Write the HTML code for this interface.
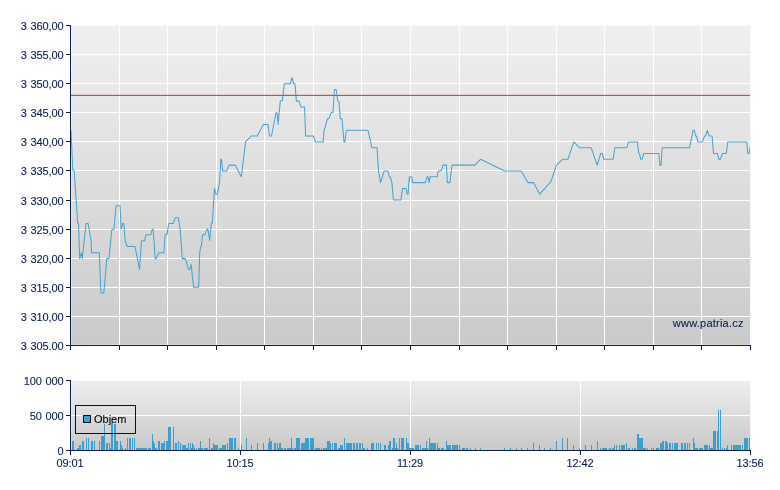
<!DOCTYPE html>
<html lang="cs"><head><meta charset="utf-8"><title>Graf</title>
<style>
html,body{margin:0;padding:0;background:#fff;}
body{width:780px;height:490px;overflow:hidden;}
svg{display:block;will-change:transform;}
.t{font-family:"Liberation Sans",sans-serif;font-size:11px;fill:#0B1F4E;stroke:#0B1F4E;stroke-width:0.1px;letter-spacing:-0.117px;word-spacing:0.82px;}
.k{font-family:"Liberation Sans",sans-serif;font-size:11px;fill:#000;stroke:#000;stroke-width:0.1px;}
</style></head><body>
<svg width="780" height="490" viewBox="0 0 780 490">
<defs>
<linearGradient id="g1" x1="0" y1="0" x2="0" y2="1"><stop offset="0" stop-color="#F0F0F0"/><stop offset="1" stop-color="#CACACA"/></linearGradient>
<linearGradient id="g2" x1="0" y1="0" x2="0" y2="1"><stop offset="0" stop-color="#EEEEEE"/><stop offset="1" stop-color="#C9C9C9"/></linearGradient>
<clipPath id="c2"><rect x="0" y="335" width="70" height="15.2"/></clipPath>
<clipPath id="c1"><rect x="71" y="25" width="679" height="320"/></clipPath>
</defs>
<rect width="780" height="490" fill="#fff"/>
<g shape-rendering="crispEdges">
<rect x="71" y="25" width="679" height="320" fill="url(#g1)"/>
<rect x="71" y="25" width="679" height="1" fill="#fff"/>
<rect x="71" y="54" width="679" height="1" fill="#fff"/>
<rect x="71" y="83" width="679" height="1" fill="#fff"/>
<rect x="71" y="112" width="679" height="1" fill="#fff"/>
<rect x="71" y="141" width="679" height="1" fill="#fff"/>
<rect x="71" y="170" width="679" height="1" fill="#fff"/>
<rect x="71" y="200" width="679" height="1" fill="#fff"/>
<rect x="71" y="229" width="679" height="1" fill="#fff"/>
<rect x="71" y="258" width="679" height="1" fill="#fff"/>
<rect x="71" y="287" width="679" height="1" fill="#fff"/>
<rect x="71" y="316" width="679" height="1" fill="#fff"/>
<rect x="71" y="345" width="679" height="1" fill="#fff"/>
<rect x="119" y="25" width="1" height="320" fill="#fff"/>
<rect x="167" y="25" width="1" height="320" fill="#fff"/>
<rect x="216" y="25" width="1" height="320" fill="#fff"/>
<rect x="264" y="25" width="1" height="320" fill="#fff"/>
<rect x="313" y="25" width="1" height="320" fill="#fff"/>
<rect x="361" y="25" width="1" height="320" fill="#fff"/>
<rect x="410" y="25" width="1" height="320" fill="#fff"/>
<rect x="459" y="25" width="1" height="320" fill="#fff"/>
<rect x="507" y="25" width="1" height="320" fill="#fff"/>
<rect x="556" y="25" width="1" height="320" fill="#fff"/>
<rect x="604" y="25" width="1" height="320" fill="#fff"/>
<rect x="653" y="25" width="1" height="320" fill="#fff"/>
<rect x="701" y="25" width="1" height="320" fill="#fff"/>
<rect x="750" y="25" width="1" height="320" fill="#fff"/>
<rect x="71" y="26" width="1" height="319" fill="#fff" opacity="0.28"/>
<rect x="71" y="25" width="680" height="1" fill="#F6F9FC"/>
<rect x="750" y="25" width="1" height="320" fill="#F6F9FC"/>
<rect x="71" y="344" width="679" height="1" fill="#fff" opacity="0.28"/>
</g>
<polyline clip-path="url(#c1)" points="71.0,130.2 72.8,170.0 74.2,171.2 77.7,223.0 78.5,223.5 79.7,258.6 81.3,252.7 82.3,258.6 86.0,223.5 88.1,223.5 91.1,240.8 91.5,252.7 99.3,252.7 100.9,292.9 103.8,292.9 106.8,258.6 108.9,258.6 111.9,229.2 114.0,229.2 116.0,205.7 120.1,205.7 121.1,229.2 122.8,223.5 123.8,223.5 125.2,240.8 127.2,246.5 135.0,246.5 137.4,258.6 139.5,269.4 141.5,240.8 144.6,240.8 146.0,234.7 150.7,234.7 152.3,229.2 153.2,229.2 155.2,258.6 156.2,258.6 158.9,252.7 164.0,252.7 165.0,234.7 167.0,234.7 168.7,223.5 173.2,223.5 175.2,217.8 178.3,217.8 180.3,230.6 182.3,258.6 185.4,258.6 188.5,269.4 189.9,269.4 191.1,264.3 193.6,287.3 198.7,287.3 199.7,252.7 200.7,246.5 201.3,246.5 202.6,234.7 204.8,234.7 207.2,228.9 207.8,228.9 209.7,240.5 211.3,223.3 212.3,223.3 214.4,188.4 216.0,194.2 217.4,194.2 219.5,182.6 220.9,159.3 221.5,159.3 222.6,171.0 226.6,171.0 229.1,165.1 235.2,165.1 241.3,176.8 245.6,141.9 251.1,136.0 257.2,136.0 263.4,124.4 267.9,124.4 269.5,136.0 271.5,136.0 276.0,112.8 277.0,112.8 278.1,124.4 280.3,101.1 282.3,100.6 284.4,83.7 290.5,83.7 291.7,77.9 292.3,77.9 293.4,83.7 295.0,83.7 296.4,101.1 299.1,101.1 301.1,107.0 304.6,107.0 305.6,136.0 313.4,136.0 315.4,141.9 323.2,141.9 324.0,131.0 327.5,118.6 329.1,118.6 331.0,112.8 333.0,112.2 334.4,89.5 336.2,89.5 337.7,100.8 338.9,101.4 340.3,118.6 341.9,118.6 344.0,141.9 344.8,141.9 346.4,130.2 366.8,130.2 368.3,131.2 371.9,147.7 377.0,147.7 378.5,171.0 380.5,182.6 384.2,171.0 387.9,171.0 389.3,176.8 390.3,177.0 391.9,182.6 393.4,200.0 400.9,200.0 402.6,188.4 406.0,188.4 407.2,194.2 408.1,194.2 409.3,176.8 411.7,176.8 412.8,182.6 425.4,182.6 427.0,176.8 428.0,176.8 429.1,182.6 430.1,176.8 437.2,176.8 438.3,171.0 441.3,170.6 443.0,165.1 446.4,165.1 447.4,182.6 449.9,182.6 451.9,165.1 474.8,165.1 480.5,159.3 504.6,171.0 521.3,171.0 527.9,182.6 533.6,182.6 539.7,194.2 550.9,181.6 556.4,165.1 562.6,159.3 567.9,159.3 573.8,141.9 579.5,147.7 591.1,147.7 597.2,165.1 600.7,153.5 602.3,153.5 603.8,159.3 613.2,159.3 614.8,147.7 626.8,147.7 628.5,141.9 637.4,141.9 638.7,153.5 639.5,153.5 640.7,159.3 642.1,159.3 643.6,153.5 658.9,153.5 659.9,165.1 661.1,165.1 662.1,147.7 689.6,147.7 693.1,130.2 694.3,130.2 695.6,136.0 696.5,136.0 698.0,141.9 702.4,141.9 704.5,136.0 705.7,135.7 707.3,130.5 709.0,135.8 712.1,136.0 713.5,153.5 717.4,153.5 718.8,159.3 720.4,159.3 722.5,153.5 726.3,153.5 727.8,141.9 746.8,141.9 747.8,153.5 749.2,153.5 750.0,147.7" fill="none" stroke="#4BA4CF" stroke-width="1.05" stroke-linejoin="round"/>
<g shape-rendering="crispEdges"><rect x="71" y="94" width="679" height="1" fill="#D24B4B" opacity="0.18"/><rect x="71" y="95" width="679" height="1" fill="#D24B4B"/></g>
<g shape-rendering="crispEdges" fill="#0B1F4E">
<rect x="70" y="25" width="1" height="325"/>
<rect x="66" y="345" width="685" height="1"/>
<rect x="66" y="25" width="4" height="1"/>
<rect x="66" y="54" width="4" height="1"/>
<rect x="66" y="83" width="4" height="1"/>
<rect x="66" y="112" width="4" height="1"/>
<rect x="66" y="141" width="4" height="1"/>
<rect x="66" y="170" width="4" height="1"/>
<rect x="66" y="200" width="4" height="1"/>
<rect x="66" y="229" width="4" height="1"/>
<rect x="66" y="258" width="4" height="1"/>
<rect x="66" y="287" width="4" height="1"/>
<rect x="66" y="316" width="4" height="1"/>
<rect x="66" y="345" width="4" height="1"/>
<rect x="119" y="345" width="1" height="5"/>
<rect x="167" y="345" width="1" height="5"/>
<rect x="216" y="345" width="1" height="5"/>
<rect x="264" y="345" width="1" height="5"/>
<rect x="313" y="345" width="1" height="5"/>
<rect x="361" y="345" width="1" height="5"/>
<rect x="410" y="345" width="1" height="5"/>
<rect x="459" y="345" width="1" height="5"/>
<rect x="507" y="345" width="1" height="5"/>
<rect x="556" y="345" width="1" height="5"/>
<rect x="604" y="345" width="1" height="5"/>
<rect x="653" y="345" width="1" height="5"/>
<rect x="701" y="345" width="1" height="5"/>
<rect x="750" y="345" width="1" height="5"/>
</g>
<text class="t" x="63.4" y="30" text-anchor="end">3 360,00</text>
<text class="t" x="63.4" y="59" text-anchor="end">3 355,00</text>
<text class="t" x="63.4" y="88" text-anchor="end">3 350,00</text>
<text class="t" x="63.4" y="117" text-anchor="end">3 345,00</text>
<text class="t" x="63.4" y="146" text-anchor="end">3 340,00</text>
<text class="t" x="63.4" y="175" text-anchor="end">3 335,00</text>
<text class="t" x="63.4" y="205" text-anchor="end">3 330,00</text>
<text class="t" x="63.4" y="234" text-anchor="end">3 325,00</text>
<text class="t" x="63.4" y="263" text-anchor="end">3 320,00</text>
<text class="t" x="63.4" y="292" text-anchor="end">3 315,00</text>
<text class="t" x="63.4" y="321" text-anchor="end">3 310,00</text>
<text class="t" x="63.4" y="350" text-anchor="end" clip-path="url(#c2)">3 305,00</text>
<text class="t" x="672.8" y="327" textLength="70.6" lengthAdjust="spacing">www.patria.cz</text>
<g shape-rendering="crispEdges">
<rect x="71" y="380" width="679" height="70" fill="url(#g2)"/>
<rect x="71" y="380" width="679" height="1" fill="#fff"/>
<rect x="71" y="415" width="679" height="1" fill="#fff"/>
<rect x="240" y="380" width="1" height="70" fill="#fff"/>
<rect x="410" y="380" width="1" height="70" fill="#fff"/>
<rect x="580" y="380" width="1" height="70" fill="#fff"/>
<rect x="71" y="381" width="1" height="69" fill="#fff" opacity="0.28"/>
<rect x="750" y="380" width="1" height="70" fill="#F6F9FC"/>
</g>
<g shape-rendering="crispEdges" fill="#3C9FCE">
<rect x="72" y="441" width="2" height="9"/>
<rect x="77" y="448" width="2" height="2"/>
<rect x="79" y="445" width="2" height="5"/>
<rect x="82" y="441" width="2" height="9"/>
<rect x="86" y="438" width="1" height="12"/>
<rect x="88" y="438" width="1" height="12"/>
<rect x="91" y="441" width="2" height="9"/>
<rect x="94" y="441" width="1" height="9"/>
<rect x="99" y="441" width="1" height="9"/>
<rect x="101" y="436" width="3" height="14"/>
<rect x="104" y="424" width="1" height="26"/>
<rect x="106" y="443" width="2" height="7"/>
<rect x="109" y="443" width="1" height="7"/>
<rect x="110" y="448" width="1" height="2"/>
<rect x="111" y="422" width="2" height="28"/>
<rect x="114" y="424" width="2" height="26"/>
<rect x="116" y="441" width="2" height="9"/>
<rect x="120" y="441" width="1" height="9"/>
<rect x="121" y="445" width="1" height="5"/>
<rect x="122" y="448" width="1" height="2"/>
<rect x="125" y="448" width="1" height="2"/>
<rect x="127" y="438" width="1" height="12"/>
<rect x="129" y="438" width="2" height="12"/>
<rect x="132" y="438" width="1" height="12"/>
<rect x="134" y="438" width="1" height="12"/>
<rect x="136" y="448" width="11" height="2"/>
<rect x="148" y="448" width="3" height="2"/>
<rect x="152" y="434" width="1" height="16"/>
<rect x="153" y="441" width="1" height="9"/>
<rect x="154" y="444" width="1" height="6"/>
<rect x="155" y="448" width="2" height="2"/>
<rect x="158" y="441" width="2" height="9"/>
<rect x="161" y="443" width="3" height="7"/>
<rect x="164" y="441" width="1" height="9"/>
<rect x="166" y="441" width="2" height="9"/>
<rect x="168" y="427" width="3" height="23"/>
<rect x="173" y="427" width="1" height="23"/>
<rect x="175" y="443" width="2" height="7"/>
<rect x="178" y="441" width="1" height="9"/>
<rect x="180" y="443" width="1" height="7"/>
<rect x="182" y="445" width="4" height="5"/>
<rect x="186" y="448" width="2" height="2"/>
<rect x="188" y="443" width="1" height="7"/>
<rect x="190" y="443" width="1" height="7"/>
<rect x="191" y="448" width="1" height="2"/>
<rect x="192" y="443" width="1" height="7"/>
<rect x="193" y="445" width="1" height="5"/>
<rect x="194" y="448" width="1" height="2"/>
<rect x="196" y="448" width="1" height="2"/>
<rect x="198" y="448" width="5" height="2"/>
<rect x="200" y="441" width="1" height="9"/>
<rect x="204" y="448" width="4" height="2"/>
<rect x="209" y="438" width="1" height="12"/>
<rect x="211" y="448" width="2" height="2"/>
<rect x="213" y="443" width="1" height="7"/>
<rect x="214" y="445" width="4" height="5"/>
<rect x="219" y="448" width="3" height="2"/>
<rect x="222" y="445" width="4" height="5"/>
<rect x="227" y="443" width="1" height="7"/>
<rect x="229" y="438" width="4" height="12"/>
<rect x="234" y="438" width="2" height="12"/>
<rect x="238" y="448" width="1" height="2"/>
<rect x="241" y="445" width="1" height="5"/>
<rect x="246" y="438" width="1" height="12"/>
<rect x="251" y="445" width="1" height="5"/>
<rect x="257" y="443" width="1" height="7"/>
<rect x="263" y="443" width="1" height="7"/>
<rect x="268" y="443" width="1" height="7"/>
<rect x="269" y="438" width="1" height="12"/>
<rect x="270" y="441" width="2" height="9"/>
<rect x="274" y="443" width="2" height="7"/>
<rect x="277" y="443" width="1" height="7"/>
<rect x="278" y="448" width="1" height="2"/>
<rect x="279" y="443" width="2" height="7"/>
<rect x="281" y="448" width="2" height="2"/>
<rect x="284" y="448" width="2" height="2"/>
<rect x="287" y="448" width="6" height="2"/>
<rect x="291" y="438" width="1" height="12"/>
<rect x="294" y="448" width="2" height="2"/>
<rect x="296" y="438" width="4" height="12"/>
<rect x="301" y="443" width="4" height="7"/>
<rect x="305" y="438" width="4" height="12"/>
<rect x="310" y="438" width="4" height="12"/>
<rect x="315" y="448" width="5" height="2"/>
<rect x="321" y="448" width="1" height="2"/>
<rect x="323" y="448" width="4" height="2"/>
<rect x="327" y="441" width="3" height="9"/>
<rect x="330" y="443" width="1" height="7"/>
<rect x="332" y="443" width="1" height="7"/>
<rect x="334" y="443" width="3" height="7"/>
<rect x="338" y="448" width="2" height="2"/>
<rect x="340" y="445" width="3" height="5"/>
<rect x="344" y="438" width="1" height="12"/>
<rect x="346" y="443" width="6" height="7"/>
<rect x="353" y="443" width="2" height="7"/>
<rect x="356" y="443" width="2" height="7"/>
<rect x="359" y="443" width="2" height="7"/>
<rect x="362" y="443" width="1" height="7"/>
<rect x="363" y="448" width="2" height="2"/>
<rect x="367" y="448" width="1" height="2"/>
<rect x="371" y="443" width="3" height="7"/>
<rect x="376" y="443" width="1" height="7"/>
<rect x="378" y="443" width="1" height="7"/>
<rect x="380" y="443" width="1" height="7"/>
<rect x="384" y="445" width="2" height="5"/>
<rect x="388" y="445" width="1" height="5"/>
<rect x="389" y="441" width="2" height="9"/>
<rect x="392" y="448" width="1" height="2"/>
<rect x="393" y="438" width="2" height="12"/>
<rect x="395" y="448" width="1" height="2"/>
<rect x="396" y="443" width="1" height="7"/>
<rect x="397" y="448" width="1" height="2"/>
<rect x="399" y="438" width="1" height="12"/>
<rect x="401" y="438" width="3" height="12"/>
<rect x="406" y="438" width="1" height="12"/>
<rect x="407" y="443" width="2" height="7"/>
<rect x="409" y="448" width="5" height="2"/>
<rect x="415" y="445" width="4" height="5"/>
<rect x="420" y="445" width="1" height="5"/>
<rect x="422" y="448" width="4" height="2"/>
<rect x="426" y="441" width="1" height="9"/>
<rect x="427" y="448" width="1" height="2"/>
<rect x="429" y="438" width="1" height="12"/>
<rect x="430" y="443" width="6" height="7"/>
<rect x="437" y="443" width="1" height="7"/>
<rect x="438" y="448" width="2" height="2"/>
<rect x="441" y="448" width="3" height="2"/>
<rect x="446" y="441" width="1" height="9"/>
<rect x="447" y="445" width="4" height="5"/>
<rect x="452" y="445" width="6" height="5"/>
<rect x="459" y="445" width="1" height="5"/>
<rect x="462" y="448" width="3" height="2"/>
<rect x="466" y="448" width="2" height="2"/>
<rect x="470" y="448" width="1" height="2"/>
<rect x="475" y="448" width="1" height="2"/>
<rect x="480" y="448" width="1" height="2"/>
<rect x="504" y="448" width="1" height="2"/>
<rect x="510" y="448" width="1" height="2"/>
<rect x="516" y="448" width="1" height="2"/>
<rect x="521" y="448" width="1" height="2"/>
<rect x="527" y="448" width="1" height="2"/>
<rect x="533" y="443" width="1" height="7"/>
<rect x="539" y="445" width="1" height="5"/>
<rect x="544" y="448" width="1" height="2"/>
<rect x="550" y="448" width="1" height="2"/>
<rect x="556" y="441" width="1" height="9"/>
<rect x="562" y="438" width="1" height="12"/>
<rect x="567" y="438" width="1" height="12"/>
<rect x="573" y="445" width="1" height="5"/>
<rect x="579" y="448" width="1" height="2"/>
<rect x="585" y="445" width="1" height="5"/>
<rect x="591" y="445" width="1" height="5"/>
<rect x="597" y="441" width="1" height="9"/>
<rect x="600" y="448" width="1" height="2"/>
<rect x="602" y="448" width="5" height="2"/>
<rect x="609" y="448" width="2" height="2"/>
<rect x="612" y="448" width="2" height="2"/>
<rect x="614" y="445" width="1" height="5"/>
<rect x="616" y="445" width="1" height="5"/>
<rect x="619" y="445" width="1" height="5"/>
<rect x="621" y="445" width="4" height="5"/>
<rect x="626" y="443" width="1" height="7"/>
<rect x="628" y="448" width="2" height="2"/>
<rect x="632" y="448" width="1" height="2"/>
<rect x="634" y="448" width="2" height="2"/>
<rect x="637" y="434" width="2" height="16"/>
<rect x="639" y="438" width="4" height="12"/>
<rect x="643" y="448" width="3" height="2"/>
<rect x="647" y="448" width="1" height="2"/>
<rect x="651" y="448" width="1" height="2"/>
<rect x="653" y="448" width="1" height="2"/>
<rect x="656" y="448" width="3" height="2"/>
<rect x="660" y="443" width="2" height="7"/>
<rect x="662" y="441" width="2" height="9"/>
<rect x="665" y="441" width="2" height="9"/>
<rect x="667" y="443" width="1" height="7"/>
<rect x="669" y="443" width="2" height="7"/>
<rect x="672" y="443" width="1" height="7"/>
<rect x="674" y="443" width="4" height="7"/>
<rect x="681" y="443" width="2" height="7"/>
<rect x="684" y="443" width="2" height="7"/>
<rect x="687" y="443" width="1" height="7"/>
<rect x="689" y="443" width="1" height="7"/>
<rect x="693" y="438" width="1" height="12"/>
<rect x="694" y="443" width="1" height="7"/>
<rect x="695" y="448" width="3" height="2"/>
<rect x="699" y="448" width="4" height="2"/>
<rect x="704" y="445" width="4" height="5"/>
<rect x="709" y="445" width="1" height="5"/>
<rect x="710" y="448" width="3" height="2"/>
<rect x="713" y="431" width="3" height="19"/>
<rect x="717" y="431" width="1" height="19"/>
<rect x="718" y="410" width="1" height="40"/>
<rect x="720" y="410" width="1" height="40"/>
<rect x="722" y="448" width="1" height="2"/>
<rect x="724" y="448" width="1" height="2"/>
<rect x="726" y="448" width="1" height="2"/>
<rect x="727" y="445" width="1" height="5"/>
<rect x="731" y="445" width="1" height="5"/>
<rect x="733" y="445" width="8" height="5"/>
<rect x="742" y="445" width="1" height="5"/>
<rect x="744" y="438" width="4" height="12"/>
<rect x="749" y="438" width="1" height="12"/>
</g>
<g shape-rendering="crispEdges">
<rect x="75.5" y="405.5" width="60" height="28" fill="none" stroke="#111" stroke-width="1"/>
<rect x="83.5" y="415.5" width="7" height="7" fill="#3C9FCE" stroke="#111" stroke-width="1"/>
</g>
<text class="k" x="94" y="423">Objem</text>
<g shape-rendering="crispEdges" fill="#0B1F4E">
<rect x="70" y="380" width="1" height="75"/>
<rect x="66" y="450" width="685" height="1"/>
<rect x="66" y="380" width="4" height="1"/>
<rect x="66" y="415" width="4" height="1"/>
<rect x="66" y="450" width="4" height="1"/>
<rect x="240" y="450" width="1" height="5"/>
<rect x="410" y="450" width="1" height="5"/>
<rect x="580" y="450" width="1" height="5"/>
<rect x="750" y="450" width="1" height="5"/>
</g>
<text class="t" x="63.4" y="385" text-anchor="end">100 000</text>
<text class="t" x="63.4" y="420" text-anchor="end">50 000</text>
<text class="t" x="63.4" y="455" text-anchor="end">0</text>
<text class="t" x="70.0" y="467" text-anchor="middle">09:01</text>
<text class="t" x="240.0" y="467" text-anchor="middle">10:15</text>
<text class="t" x="410.0" y="467" text-anchor="middle">11:29</text>
<text class="t" x="580.0" y="467" text-anchor="middle">12:42</text>
<text class="t" x="750.0" y="467" text-anchor="middle">13:56</text>
</svg>
</body></html>
